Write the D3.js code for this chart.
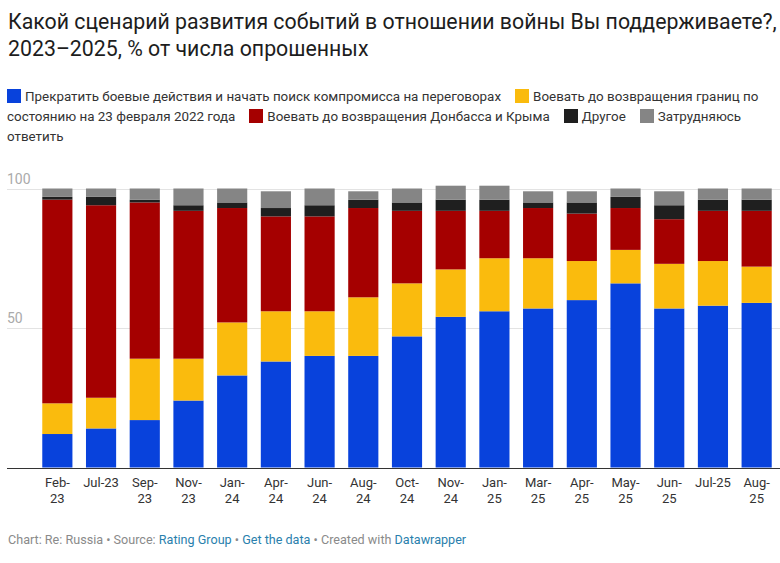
<!DOCTYPE html>
<html>
<head>
<meta charset="utf-8">
<script src="https://cdn.jsdelivr.net/npm/d3@7"></script>
<style>
  body { margin: 0; background: #fff; font-family: Roboto, "Noto Sans", sans-serif; }
  #wrap { position: relative; width: 780px; height: 563px; overflow: hidden; }
  svg { position: absolute; left: 0; top: 0; }
  .legend { position: absolute; left: 7px; top: 87px; width: 766px; font-size: 13.4px; line-height: 20px; color: #333; }
  .legend .item { margin-right: 14px; }
  .legend .sw { display: inline-block; width: 14px; height: 14px; margin-right: 4px; vertical-align: -2px; }
</style>
</head>
<body>
<div id="wrap"></div>
<script>
var titleLines = ["Какой сценарий развития событий в отношении войны Вы поддерживаете?,", "2023–2025, % от числа опрошенных"];

var categories = ["Feb-23", "Jul-23", "Sep-23", "Nov-23", "Jan-24", "Apr-24", "Jun-24", "Aug-24", "Oct-24",
  "Nov-24", "Jan-25", "Mar-25", "Apr-25", "May-25", "Jun-25", "Jul-25", "Aug-25"];
// how each tick label is wrapped in the picture
var tickLines = [["Feb-", "23"], ["Jul-23"], ["Sep-", "23"], ["Nov-", "23"], ["Jan-", "24"], ["Apr-", "24"],
  ["Jun-", "24"], ["Aug-", "24"], ["Oct-", "24"], ["Nov-", "24"], ["Jan-", "25"], ["Mar-", "25"],
  ["Apr-", "25"], ["May-", "25"], ["Jun-", "25"], ["Jul-25"], ["Aug-", "25"]];

var seriesNames = [
  "Прекратить боевые действия и начать поиск компромисса на переговорах",
  "Воевать до возвращения границ по состоянию на 23 февраля 2022 года",
  "Воевать до возвращения Донбасса и Крыма",
  "Другое",
  "Затрудняюсь ответить"
];
var seriesColors = ["#0842dc", "#fabb0d", "#a50000", "#1f1f1f", "#858585"];

var negotiate = [12, 14, 17, 24, 33, 38, 40, 40, 47, 54, 56, 57, 60, 66, 57, 58, 59];
var borders1991 = [11, 11, 22, 15, 19, 18, 16, 21, 19, 17, 19, 18, 14, 12, 16, 16, 13];
var donbassCrimea = [73, 69, 56, 53, 41, 34, 34, 32, 26, 21, 17, 18, 17, 15, 16, 18, 20];
var other = [1, 3, 1, 2, 2, 3, 4, 3, 3, 4, 4, 2, 4, 4, 5, 4, 4];
var dontKnow = [3, 3, 4, 6, 5, 6, 6, 3, 5, 5, 5, 4, 4, 3, 5, 4, 4];

var yTicks = [50, 100];

var footerParts = [
  { t: "Chart: Re: Russia • Source: ", link: false },
  { t: "Rating Group", link: true },
  { t: " • ", link: false },
  { t: "Get the data", link: true },
  { t: " • Created with ", link: false },
  { t: "Datawrapper", link: true }
];

var keys = ["negotiate", "borders1991", "donbassCrimea", "other", "dontKnow"];
var data = categories.map(function (c, i) {
  return {
    cat: c,
    negotiate: negotiate[i],
    borders1991: borders1991[i],
    donbassCrimea: donbassCrimea[i],
    other: other[i],
    dontKnow: dontKnow[i]
  };
});
var stacked = d3.stack().keys(keys)(data);
var color = d3.scaleOrdinal().domain(keys).range(seriesColors);

var width = 780, height = 563;
var wrap = d3.select("#wrap");
var svg = wrap.append("svg").attr("width", width).attr("height", height);

// title
svg.append("g").selectAll("text").data(titleLines).enter().append("text")
  .attr("x", 8)
  .attr("y", function (d, i) { return 29 + i * 27; })
  .attr("font-size", 21.3)
  .attr("fill", "#1d1d1d")
  .text(function (d) { return d; });

// legend (html so the text wraps like the original)
var legend = wrap.append("div").attr("class", "legend");
var items = legend.selectAll("span.item").data(seriesNames).enter().append("span").attr("class", "item");
items.append("span").attr("class", "sw").style("background", function (d, i) { return seriesColors[i]; });
items.each(function (d) { this.appendChild(document.createTextNode(d)); });

var x = d3.scaleBand().domain(categories).range([35.5, 778.5]).paddingInner(0.31).paddingOuter(0.155);
var y = d3.scaleLinear().domain([0, 100]).range([467.5, 188.5]);

// grid
var grid = svg.append("g");
grid.selectAll("line").data(yTicks).enter().append("line")
  .attr("x1", 7).attr("x2", 780)
  .attr("y1", function (d) { return Math.round(y(d)) + 0.5; })
  .attr("y2", function (d) { return Math.round(y(d)) + 0.5; })
  .attr("stroke", "#e3e3e3");
grid.selectAll("text").data(yTicks).enter().append("text")
  .attr("x", 7)
  .attr("y", function (d) { return y(d) - 5; })
  .attr("font-size", 14)
  .attr("fill", "#aaa")
  .text(function (d) { return d; });

// bars
svg.append("g").selectAll("g").data(stacked).enter().append("g")
  .attr("fill", function (d) { return color(d.key); })
  .selectAll("rect")
  .data(function (d) { return d; })
  .enter().append("rect")
  .attr("x", function (d) { return x(d.data.cat); })
  .attr("width", x.bandwidth())
  .attr("y", function (d) { return y(d[1]); })
  .attr("height", function (d) { return y(d[0]) - y(d[1]); });

// x axis
var gX = svg.append("g").attr("transform", "translate(0," + Math.round(y(0)) + ")");
gX.call(d3.axisBottom(x).tickSize(0).tickFormat(""));
gX.select(".domain").attr("d", "M7,0.5H780").attr("stroke", "#333");
gX.selectAll(".tick").each(function (d, i) {
  var t = d3.select(this).append("text")
    .attr("fill", "#333")
    .attr("font-size", 13)
    .attr("font-family", "Roboto, sans-serif")
    .attr("text-anchor", "middle");
  tickLines[i].forEach(function (line, j) {
    t.append("tspan").attr("x", 0).attr("y", 19 + j * 16).text(line);
  });
});

// footer
var foot = svg.append("text").attr("x", 8).attr("y", 544).attr("font-size", 12.6).attr("fill", "#8a8a8a");
foot.selectAll("tspan").data(footerParts).enter().append("tspan")
  .attr("fill", function (d) { return d.link ? "#2a7fad" : "#8a8a8a"; })
  .text(function (d) { return d.t; });
</script>
</body>
</html>
